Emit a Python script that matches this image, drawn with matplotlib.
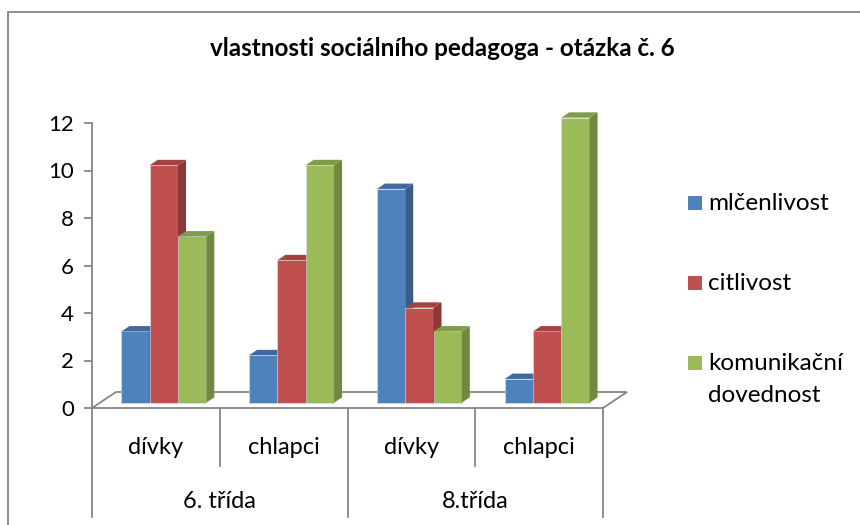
import matplotlib
matplotlib.use('Agg')
import matplotlib.pyplot as plt
from matplotlib.patches import Polygon, Rectangle
from matplotlib.lines import Line2D

plt.rcParams['font.family'] = ['Lato', 'DejaVu Sans']

# data
groups = ['6. třída', '8.třída']
subgroups = ['dívky', 'chlapci', 'dívky', 'chlapci']
series = ['mlčenlivost', 'citlivost', 'komunikační\ndovednost']
mlcenlivost = [3, 2, 9, 1]
citlivost = [10, 6, 4, 3]
komunikacni = [7, 10, 3, 12]
values = [mlcenlivost, citlivost, komunikacni]

front_cols = ['#4F81BD', '#C0504D', '#9BBB59']
side_cols = ['#385D8A', '#8C3836', '#71893F']
top_cols = ['#416A9C', '#A3423F', '#809B49']
grey = '#868686'

W, H = 860, 525
fig = plt.figure(figsize=(W / 100, H / 100), dpi=100)


def fx(px):
    return px / W


def fy(py):
    return 1 - py / H


# plot area: x 0..4 -> px 92..603, y 0..12 -> px 408..123
ax = fig.add_axes([fx(92), fy(408), fx(603) - fx(92), fy(123) - fy(408)])
ax.set_xlim(0, 4)
ax.set_ylim(0, 12)
ax.patch.set_alpha(0)
for sp in ['top', 'right', 'bottom']:
    ax.spines[sp].set_visible(False)
ax.spines['left'].set_color(grey)
ax.spines['left'].set_linewidth(1.3)
ax.set_xticks([])
ax.set_yticks(range(0, 13, 2))
ax.tick_params(axis='y', length=6, width=1.3, color=grey, labelsize=16, pad=7)

# depth of the 3d floor in data units
DX = 24 / 127.75
DY = 16 / 23.75

floor = Polygon([(0, 0), (DX, DY), (4 + DX, DY), (4, 0)], closed=True,
                facecolor='none', edgecolor=grey, lw=1.3, clip_on=False, zorder=1)
ax.add_patch(floor)

bw = 0.2215
nser = len(values)
z = 2
for i in range(len(subgroups)):
    left0 = i + 0.5 - bw * nser / 2 + DX / 3
    y0 = DY / 3
    for s in range(nser):
        v = values[s][i]
        x0 = left0 + s * bw
        x1 = x0 + bw
        yt = y0 + v
        ax.bar(x0, v, width=bw, bottom=y0, align='edge', color=front_cols[s],
               edgecolor='#DCE6F2', linewidth=0.4, clip_on=False, zorder=z)
        side = Polygon([(x1, y0), (x1 + DX / 3, y0 + DY / 3),
                        (x1 + DX / 3, yt + DY / 3), (x1, yt)], closed=True,
                       facecolor=side_cols[s], edgecolor='none', clip_on=False, zorder=z)
        top = Polygon([(x0, yt), (x0 + DX / 3, yt + DY / 3),
                       (x1 + DX / 3, yt + DY / 3), (x1, yt)], closed=True,
                      facecolor=top_cols[s], edgecolor='none', clip_on=False, zorder=z)
        ax.add_patch(side)
        ax.add_patch(top)
        z += 1

# category axis: dividers and labels
for k in range(5):
    ybot = -4.6 if k % 2 == 0 else -2.45
    ax.add_line(Line2D([k, k], [0, ybot], color=grey, lw=1.3, clip_on=False))
for i, lab in enumerate(subgroups):
    ax.text(i + 0.5, -1.68, lab, ha='center', va='center', fontsize=17)
for g, lab in enumerate(groups):
    ax.text(2 * g + 1, -3.92, lab, ha='center', va='center', fontsize=17)

# legend
leg_y = [203, 283, 363]
for s, lab in enumerate(series):
    fig.patches.append(Rectangle((fx(688), fy(leg_y[s] + 7)), fx(14), 14 / H,
                                 transform=fig.transFigure, facecolor=front_cols[s],
                                 edgecolor='none'))
    for k, line in enumerate(lab.split('\n')):
        fig.text(fx(708), fy(leg_y[s] + 32 * k), line, ha='left', va='center',
                 fontsize=17.5)

fig.text(fx(442), fy(48), 'vlastnosti sociálního pedagoga - otázka č. 6',
         ha='center', va='center', fontsize=17.5, fontweight='bold')

# outer chart border
fig.patches.append(Rectangle((fx(8), fy(560)), fx(900), 548 / H,
                             transform=fig.transFigure, facecolor='none',
                             edgecolor=grey, lw=1.3, clip_on=False))

fig.savefig('out.png', dpi=100)
